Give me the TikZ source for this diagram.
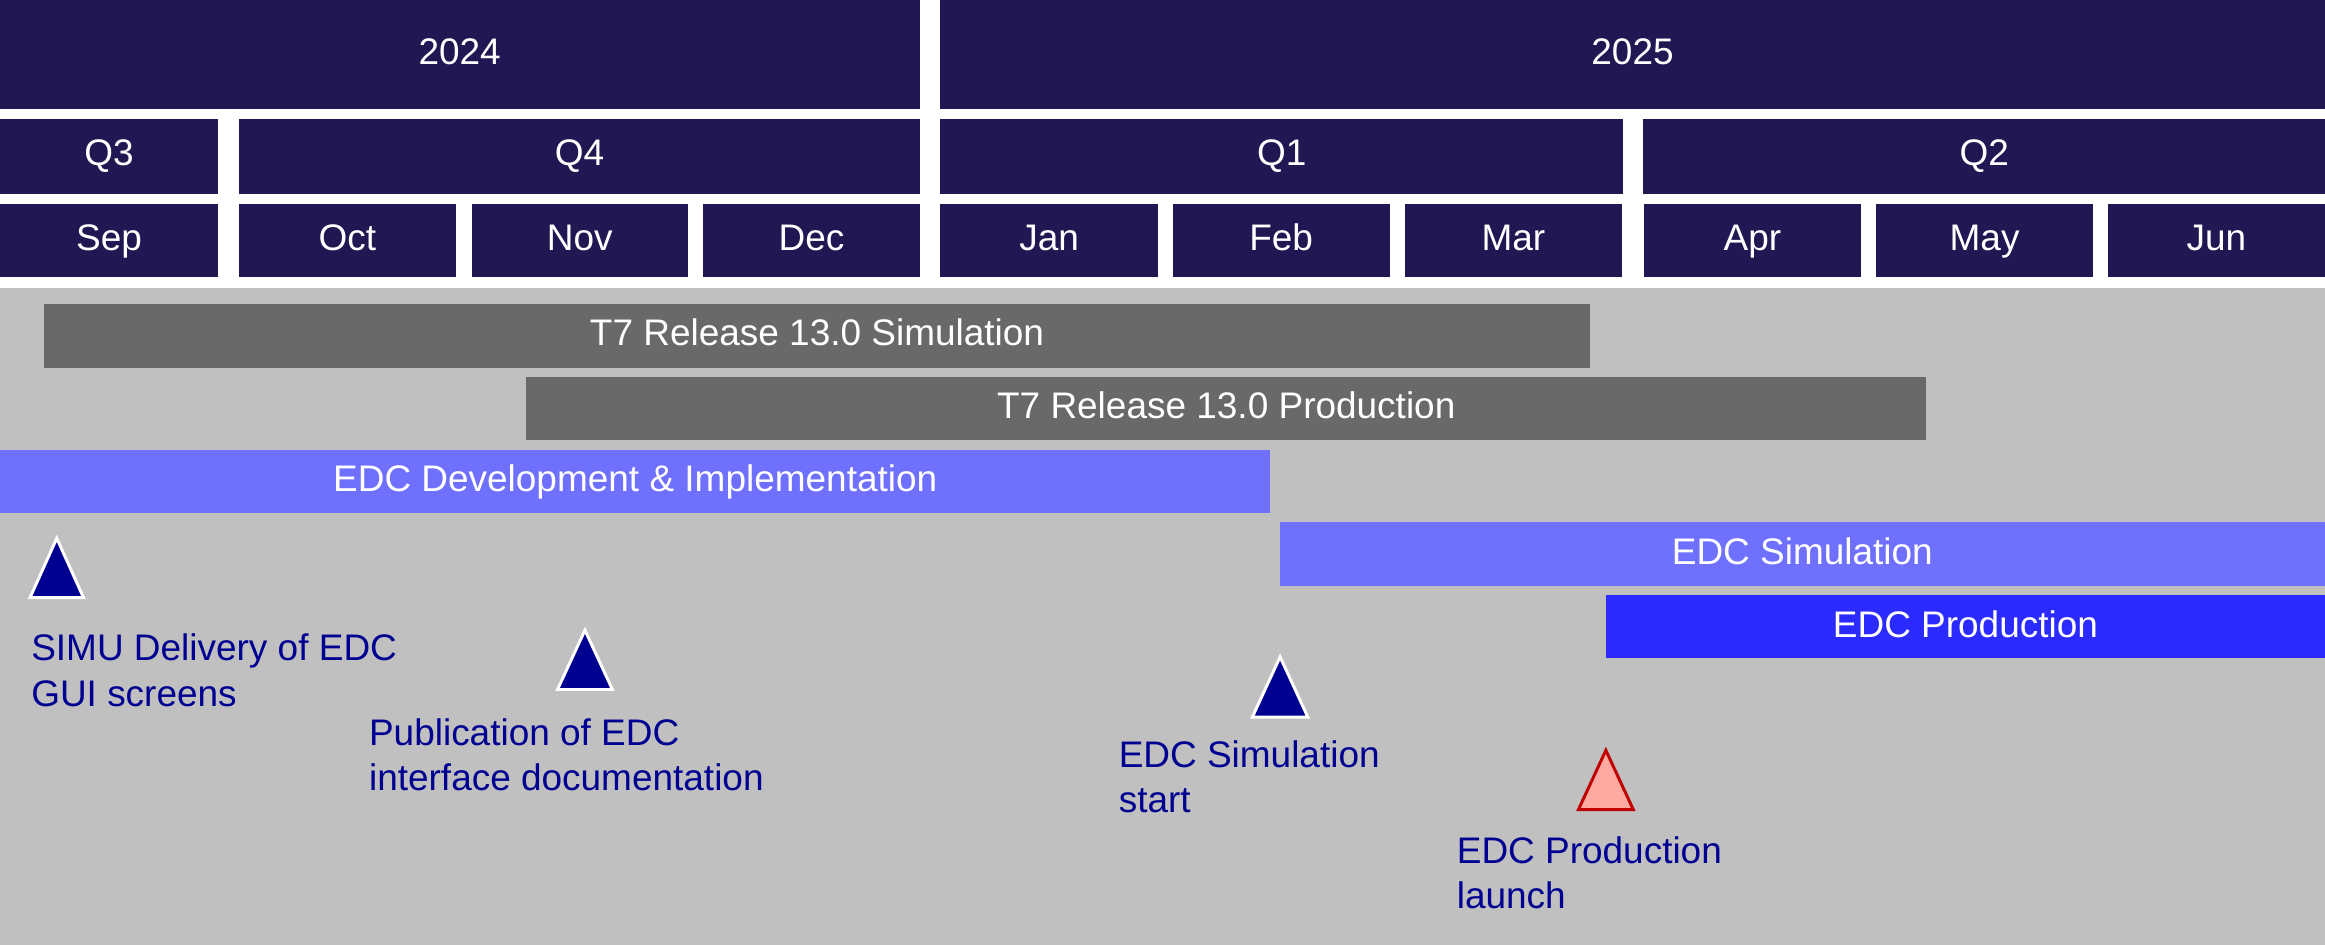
\documentclass[tikz,border=0pt]{standalone}
\usepackage{fontspec}
\setmainfont{Liberation Sans}
\newcommand{\lblfont}{\fontsize{18.7}{22.9}\selectfont}

\tikzset{every picture/.style={line width=0.75pt}}
\tikzset{
  hdrbox/.style={draw opacity=0, fill={rgb, 255:red, 32; green, 24; blue, 82}},
  hdrlbl/.style={anchor=base, inner sep=0, text=white, font=\lblfont},
  graybar/.style={draw opacity=0, fill={rgb, 255:red, 105; green, 105; blue, 105}},
  lightbar/.style={draw opacity=0, fill={rgb, 255:red, 112; green, 112; blue, 255}},
  darkbar/.style={draw opacity=0, fill={rgb, 255:red, 43; green, 43; blue, 255}},
  milestone/.style={draw=white, fill={rgb, 255:red, 0; green, 0; blue, 145}, line width=1.5pt},
  redmilestone/.style={draw={rgb, 255:red, 192; green, 0; blue, 0}, fill={rgb, 255:red, 255; green, 170; blue, 160}, line width=1.5pt},
  mslbl/.style={anchor=base west, inner sep=0, align=left, text={rgb, 255:red, 0; green, 0; blue, 145}, font=\lblfont},
}

\begin{document}
\begin{tikzpicture}[x=0.75pt,y=0.75pt,yscale=-1,xscale=1]
	\useasboundingbox (0,0) rectangle (1568,637.3);

	%Shape: Rectangle (years)
	\draw [hdrbox] (0,0) rectangle (620.5,73.3) ;
	\draw [hdrbox] (634,0) rectangle (1568,73.3) ;
	\node [hdrlbl] (y2024) at (310,43.8) {2024};
	\node [hdrlbl] (y2025) at (1101,43.8) {2025};

	%Shape: Rectangle (quarters)
	\draw [hdrbox] (0,80.3) rectangle (147,130.6) ;
	\draw [hdrbox] (161,80.3) rectangle (620.5,130.6) ;
	\draw [hdrbox] (634,80.3) rectangle (1094.8,130.6) ;
	\draw [hdrbox] (1108.3,80.3) rectangle (1568,130.6) ;
	\node [hdrlbl] (q3) at (73.5,111.7) {Q3};
	\node [hdrlbl] (q4) at (390.8,111.7) {Q4};
	\node [hdrlbl] (q1) at (864.4,111.7) {Q1};
	\node [hdrlbl] (q2) at (1338.2,111.7) {Q2};

	%Shape: Rectangle (months)
	\draw [hdrbox] (0,137.6) rectangle (147,186.6) ;
	\draw [hdrbox] (161,137.6) rectangle (307.5,186.6) ;
	\draw [hdrbox] (318,137.6) rectangle (464,186.6) ;
	\draw [hdrbox] (474,137.6) rectangle (620.5,186.6) ;
	\draw [hdrbox] (634,137.6) rectangle (781,186.6) ;
	\draw [hdrbox] (790.8,137.6) rectangle (937.3,186.6) ;
	\draw [hdrbox] (947.7,137.6) rectangle (1093.6,186.6) ;
	\draw [hdrbox] (1108.9,137.6) rectangle (1254.8,186.6) ;
	\draw [hdrbox] (1265.2,137.6) rectangle (1411.6,186.6) ;
	\draw [hdrbox] (1421.5,137.6) rectangle (1568,186.6) ;
	\node [hdrlbl] (sep) at (73.5,168.8) {Sep};
	\node [hdrlbl] (oct) at (234.3,168.8) {Oct};
	\node [hdrlbl] (nov) at (391,168.8) {Nov};
	\node [hdrlbl] (dec) at (547.3,168.8) {Dec};
	\node [hdrlbl] (jan) at (707.5,168.8) {Jan};
	\node [hdrlbl] (feb) at (864,168.8) {Feb};
	\node [hdrlbl] (mar) at (1020.6,168.8) {Mar};
	\node [hdrlbl] (apr) at (1181.8,168.8) {Apr};
	\node [hdrlbl] (may) at (1338.4,168.8) {May};
	\node [hdrlbl] (jun) at (1494.8,168.8) {Jun};

	%Shape: Rectangle (background)
	\draw [draw opacity=0, fill={rgb, 255:red, 192; green, 192; blue, 192}] (0,194) rectangle (1568,637.3) ;

	%Shape: Rectangle (bars)
	\draw [graybar] (29.5,205) rectangle (1072.4,248) ;
	\node [hdrlbl] (t7sim) at (551,233.1) {T7 Release 13.0 Simulation};
	\draw [graybar] (355,254) rectangle (1299,296.5) ;
	\node [hdrlbl] (t7prod) at (827,282) {T7 Release 13.0 Production};
	\draw [lightbar] (0,303.4) rectangle (856.7,345.7) ;
	\node [hdrlbl] (edcdev) at (428.4,331.5) {EDC Development \& Implementation};
	\draw [lightbar] (863,352) rectangle (1568,395) ;
	\node [hdrlbl] (edcsim) at (1215.5,380.4) {EDC Simulation};
	\draw [darkbar] (1083,401) rectangle (1568,444) ;
	\node [hdrlbl] (edcprod) at (1325.5,429.6) {EDC Production};

	%Shape: Triangle (milestones)
	\draw [milestone] (38.3,363) -- (56.3,403) -- (20.3,403) -- cycle ;
	\draw [milestone] (394.5,425) -- (413,465) -- (376,465) -- cycle ;
	\draw [milestone] (863.3,443) -- (882,483.6) -- (844.6,483.6) -- cycle ;
	\draw [redmilestone] (1083,506) -- (1101.5,546) -- (1064.5,546) -- cycle ;

	%Text Node (milestones), base is the last line
	\node [mslbl] (simu) at (20.6,476.2) {SIMU Delivery of EDC\\GUI screens};
	\node [mslbl] (publ) at (248.4,533.4) {Publication of EDC\\interface documentation};
	\node [mslbl] (simstart) at (754,547.8) {EDC Simulation\\start};
	\node [mslbl] (launch) at (982,613) {EDC Production\\launch};

\end{tikzpicture}
\end{document}
